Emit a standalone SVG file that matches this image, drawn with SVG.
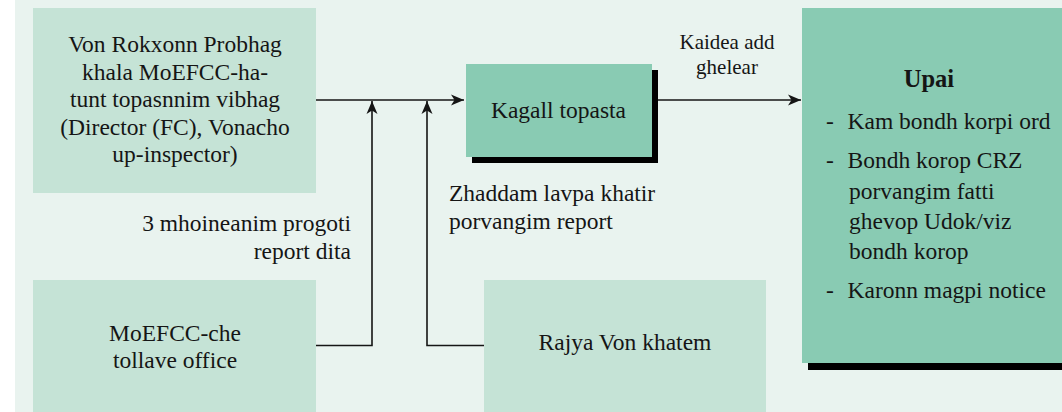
<svg xmlns="http://www.w3.org/2000/svg" width="1062" height="412" viewBox="0 0 1062 412">
  <defs>
    <style>
      .t { font-family: "Liberation Serif", "Times New Roman", serif; font-size: 23.5px; fill: #151515; }
      .c { text-anchor: middle; }
      .r { text-anchor: end; }
      .light { fill: #c5e3d6; }
      .dark { fill: #89cbb3; }
      .shadow { fill: #000; }
      .ln { fill: none; stroke: #151515; stroke-width: 1.6; }
    </style>
    <marker id="ah" markerUnits="userSpaceOnUse" markerWidth="14" markerHeight="12" refX="13" refY="6" orient="auto">
      <path d="M0,0.5 L13,6 L0,11.5 L3.5,6 Z" fill="#151515"/>
    </marker>
  </defs>

  <rect x="0" y="0" width="1062" height="412" fill="#ffffff"/>
  <rect x="15" y="0" width="1047" height="412" fill="#e9f3ef"/>

  <g id="connectors">
    <path class="ln" d="M316,100 H464" marker-end="url(#ah)"/>
    <path class="ln" d="M316,345.5 H372 V101" marker-end="url(#ah)"/>
    <path class="ln" d="M484,345.5 H427 V101" marker-end="url(#ah)"/>
    <path class="ln" d="M652,100 H801" marker-end="url(#ah)"/>
    <text class="t c" x="727" y="49" style="font-size:21px">Kaidea add</text>
    <text class="t c" x="727" y="74" style="font-size:21px">ghelear</text>
    <text class="t r" x="351" y="231">3 mhoineanim progoti</text>
    <text class="t r" x="351" y="259">report dita</text>
    <text class="t" x="449" y="201">Zhaddam lavpa khatir</text>
    <text class="t" x="449" y="229">porvangim report</text>
  </g>

  <g id="node-von-rokxonn">
    <rect class="light" x="33" y="8" width="283" height="185"/>
    <text class="t c" x="175" y="52">Von Rokxonn Probhag</text>
    <text class="t c" x="175" y="79.5">khala MoEFCC-ha-</text>
    <text class="t c" x="175" y="107">tunt topasnnim vibhag</text>
    <text class="t c" x="175" y="134.5">(Director (FC), Vonacho</text>
    <text class="t c" x="175" y="162">up-inspector)</text>
  </g>

  <g id="node-moefcc">
    <rect class="light" x="33" y="280" width="283" height="132"/>
    <text class="t c" x="175" y="340.5">MoEFCC-che</text>
    <text class="t c" x="175" y="368">tollave office</text>
  </g>

  <g id="node-rajya">
    <rect class="light" x="484" y="280" width="282" height="132"/>
    <text class="t c" x="625" y="350">Rajya Von khatem</text>
  </g>

  <g id="node-kagall">
    <rect class="shadow" x="472" y="70" width="186" height="93"/>
    <rect class="dark" x="466" y="64" width="186" height="93"/>
    <text class="t c" x="558.5" y="118">Kagall topasta</text>
  </g>

  <g id="node-upai">
    <rect class="shadow" x="808" y="14" width="260" height="356"/>
    <rect class="dark" x="802" y="8" width="266" height="355"/>
    <text class="t c" x="929" y="87" style="font-weight:bold;font-size:24.5px">Upai</text>
    <text class="t" x="826" y="129">-</text>
    <text class="t" x="847.5" y="129">Kam bondh korpi ord</text>
    <text class="t" x="826" y="168">-</text>
    <text class="t" x="847.5" y="168">Bondh korop CRZ</text>
    <text class="t" x="849" y="199">porvangim fatti</text>
    <text class="t" x="849" y="229">ghevop Udok/viz</text>
    <text class="t" x="849" y="259">bondh korop</text>
    <text class="t" x="826" y="298">-</text>
    <text class="t" x="847.5" y="298">Karonn magpi notice</text>
  </g>
</svg>
